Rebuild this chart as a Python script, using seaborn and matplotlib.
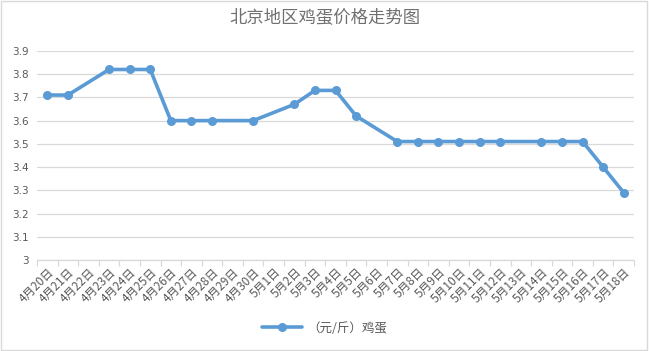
import numpy as np
import pandas as pd
import matplotlib
matplotlib.use('Agg')
import matplotlib.pyplot as plt
from matplotlib.patches import Rectangle
import seaborn as sns

# Dates and prices (NaN = no quote that day)
dates = ['4月20日', '4月21日', '4月22日', '4月23日', '4月24日', '4月25日', '4月26日',
         '4月27日', '4月28日', '4月29日', '4月30日', '5月1日', '5月2日', '5月3日',
         '5月4日', '5月5日', '5月6日', '5月7日', '5月8日', '5月9日', '5月10日',
         '5月11日', '5月12日', '5月13日', '5月14日', '5月15日', '5月16日', '5月17日',
         '5月18日']
prices = [3.71, 3.71, np.nan, 3.82, 3.82, 3.82, 3.60,
          3.60, 3.60, np.nan, 3.60, np.nan, 3.67, 3.73,
          3.73, 3.62, np.nan, 3.51, 3.51, 3.51, 3.51,
          3.51, 3.51, np.nan, 3.51, 3.51, 3.51, 3.40,
          3.29]
series_name = '（元/斤）鸡蛋'
y_ticks = [3.0, 3.1, 3.2, 3.3, 3.4, 3.5, 3.6, 3.7, 3.8, 3.9]

df = pd.DataFrame({'idx': np.arange(len(dates)), 'date': dates, 'price': prices})
df_plot = df.dropna()

sns.set_theme(style='white')
plt.rcParams['font.family'] = ['Noto Sans CJK SC', 'DejaVu Sans']

color = '#5B9BD5'
text_color = '#595959'
grid_color = '#D9D9D9'

fig = plt.figure(figsize=(6.49, 3.51), dpi=100)
ax = fig.add_axes([0.057, 0.259, 0.920, 0.596])

sns.lineplot(data=df_plot, x='idx', y='price', color=color, linewidth=2.6,
             marker='o', markersize=6.5, markeredgewidth=0, ax=ax,
             label=series_name, legend=False)

ax.set_xlim(-0.5, len(dates) - 0.5)
ax.set_ylim(3.0, 3.9)
ax.set_yticks(y_ticks)
ax.set_yticklabels([f'{v:g}' for v in y_ticks], fontsize=7.5, color=text_color,
                   family=['DejaVu Sans'])
ax.yaxis.grid(True, color=grid_color, linewidth=0.9)
ax.tick_params(axis='y', length=0, pad=6)

ax.set_xticks(df['idx'])
ax.set_xticklabels(dates, rotation=45, ha='right', rotation_mode='anchor',
                   fontsize=8.5, color=text_color)
ax.set_xticks(np.arange(-0.5, len(dates), 1), minor=True)
ax.tick_params(axis='x', which='major', length=0, pad=4)
ax.tick_params(axis='x', which='minor', length=4, color=grid_color, width=0.9,
               direction='out', bottom=True)

for s in ['left', 'top', 'right']:
    ax.spines[s].set_visible(False)
ax.spines['bottom'].set_color(grid_color)
ax.spines['bottom'].set_linewidth(0.9)
ax.set_xlabel('')
ax.set_ylabel('')

fig.suptitle('北京地区鸡蛋价格走势图', x=0.5, y=0.975, fontsize=12.5,
             color='#707070')

handles, labels = ax.get_legend_handles_labels()
fig.legend(handles, labels, loc='center', bbox_to_anchor=(0.5, 0.065),
           frameon=False, fontsize=9, labelcolor=text_color,
           handlelength=3.2, handletextpad=0.4)

fig.patches.append(Rectangle((0.001, 0.002), 0.996, 0.995, transform=fig.transFigure,
                             fill=False, edgecolor=grid_color, linewidth=1))

fig.savefig('out.png', dpi=100)
